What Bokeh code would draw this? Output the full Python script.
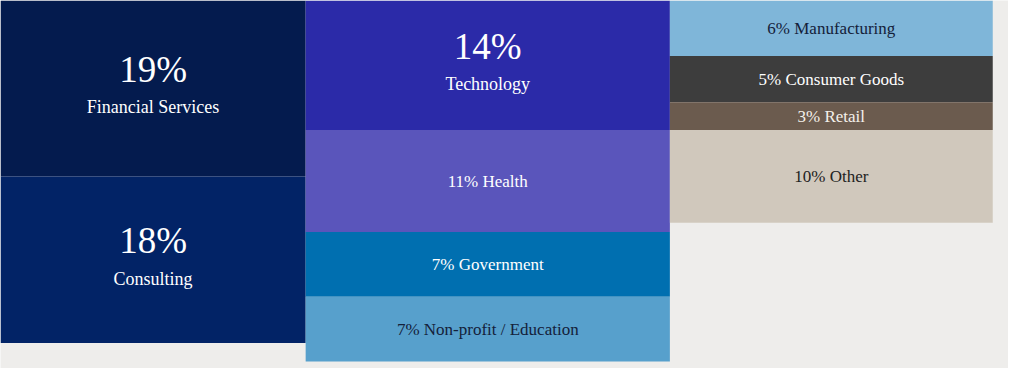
from bokeh.plotting import figure
from bokeh.models import ColumnDataSource, Range1d
from bokeh.core.properties import value
from bokeh.embed import file_html
from bokeh.resources import INLINE

# ---- data ----
categories = ["Financial Services", "Consulting",
              "Technology", "Health", "Government", "Non-profit / Education",
              "Manufacturing", "Consumer Goods", "Retail", "Other"]
shares = [19, 18, 14, 11, 7, 7, 6, 5, 3, 10]
column = [0, 0, 1, 1, 1, 1, 2, 2, 2, 2]
headline = [True, True, True, False, False, False, False, False, False, False]

# ---- layout / style ----
COL_EDGES = [0, 310, 680, 1008]          # column boundaries (reference px units)
PX_PER_PCT = 9.66                         # vertical reference pixels per percent
VIEW_W, VIEW_H = 1024, 384                # reference canvas
colors = ["#041b4e", "#022366", "#2b2aa8", "#5a55bb", "#006fb0", "#57a0cc",
          "#7fb6d9", "#3d3d3d", "#6b5b4e", "#d0c8bc"]
text_colors = ["#ffffff", "#ffffff", "#ffffff", "#ffffff", "#ffffff", "#14213a",
               "#14213a", "#ffffff", "#f4f0ea", "#222222"]
BG = "#eeedeb"
FONT = value("Liberation Serif")

W, H = 1008, 368
p = figure(width=W, height=H, output_backend="svg", toolbar_location=None,
           x_range=Range1d(0, VIEW_W),
           y_range=Range1d(VIEW_H / PX_PER_PCT, 0))
p.min_border = 0
p.outline_line_color = None
p.axis.visible = False
p.grid.visible = False
p.background_fill_color = BG
p.border_fill_color = BG

# compute stacked treemap cells
left, right, top, bottom, cx, cy = [], [], [], [], [], []
acc = {}
for c, v in zip(column, shares):
    start = acc.get(c, 0)
    acc[c] = start + v
    left.append(COL_EDGES[c]); right.append(COL_EDGES[c + 1])
    top.append(start); bottom.append(start + v)
    cx.append((COL_EDGES[c] + COL_EDGES[c + 1]) / 2)
    cy.append(start + v / 2)

src = ColumnDataSource(dict(left=left, right=right, top=top, bottom=bottom,
                            color=colors))
p.quad(left="left", right="right", top="top", bottom="bottom", source=src,
       fill_color="color", line_color=None)

big = dict(x=[], y=[], pct=[], name=[], tc=[])
small = dict(x=[], y=[], label=[], tc=[])
for i, cat in enumerate(categories):
    if headline[i]:
        big["x"].append(cx[i]); big["y"].append(cy[i])
        big["pct"].append(f"{shares[i]}%"); big["name"].append(cat)
        big["tc"].append(text_colors[i])
    else:
        small["x"].append(cx[i]); small["y"].append(cy[i])
        small["label"].append(f"{shares[i]}% {cat}")
        small["tc"].append(text_colors[i])

bsrc = ColumnDataSource(big)
ssrc = ColumnDataSource(small)
p.text(x="x", y="y", text="pct", source=bsrc, text_color="tc",
       text_align="center", text_baseline="middle", y_offset=-19,
       text_font=FONT, text_font_size="37px")
p.text(x="x", y="y", text="name", source=bsrc, text_color="tc",
       text_align="center", text_baseline="middle", y_offset=19,
       text_font=FONT, text_font_size="18px")
p.text(x="x", y="y", text="label", source=ssrc, text_color="tc",
       text_align="center", text_baseline="middle",
       text_font=FONT, text_font_size="17px")

open("out.html", "w").write(file_html(p, INLINE))
